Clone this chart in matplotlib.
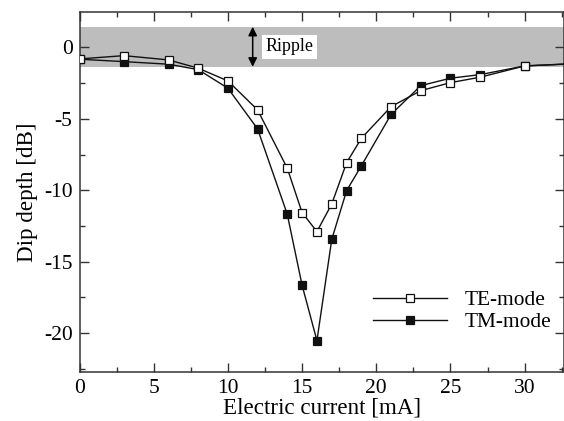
import matplotlib
matplotlib.use("Agg")
import matplotlib.pyplot as plt
from matplotlib.ticker import MultipleLocator

current = [0, 3, 6, 8, 10, 12, 14, 15, 16, 17, 18, 19, 21, 23, 25, 27, 30, 33]
te_mode = [-0.80, -0.57, -0.87, -1.45, -2.34, -4.37, -8.45, -11.56, -12.89, -10.95,
           -8.06, -6.35, -4.14, -3.02, -2.46, -2.08, -1.29, -1.15]
tm_mode = [-0.82, -0.99, -1.17, -1.55, -2.85, -5.70, -11.67, -16.65, -20.52, -13.43,
           -10.02, -8.27, -4.68, -2.67, -2.15, -1.90, -1.29, -1.15]
ripple_low, ripple_high = -1.35, 1.45

plt.rcParams['font.family'] = ['Liberation Serif', 'DejaVu Serif']
plt.rcParams['axes.unicode_minus'] = False
fig = plt.figure(figsize=(5.64, 4.21), dpi=100)
ax = fig.add_axes([0.141, 0.117, 0.859, 0.854])

ax.axhspan(ripple_low, ripple_high, color='#bdbdbd', lw=0, zorder=0)

ax.plot(current, te_mode, '-s', color='#111111', mfc='white', mec='#111111',
        ms=5.8, mew=0.9, lw=1.0, label='TE-mode', zorder=3)
ax.plot(current, tm_mode, '-s', color='#111111', mfc='#111111', mec='#111111',
        ms=5.8, mew=0.9, lw=1.0, label='TM-mode', zorder=2)

ax.annotate('', xy=(11.67, ripple_low), xytext=(11.67, ripple_high),
            arrowprops=dict(arrowstyle='<|-|>', color='black', lw=1.1,
                            mutation_scale=13, shrinkA=0, shrinkB=0), zorder=4)
ax.text(12.55, 0.05, 'Ripple', fontsize=13, ha='left', va='center',
        bbox=dict(facecolor='white', edgecolor='none', pad=2.5), zorder=5)

ax.set_xlim(0, 32.65)
ax.set_ylim(-22.7, 2.47)
ax.xaxis.set_major_locator(MultipleLocator(5))
ax.xaxis.set_minor_locator(MultipleLocator(2.5))
ax.yaxis.set_major_locator(MultipleLocator(5))
ax.yaxis.set_minor_locator(MultipleLocator(2.5))
ax.tick_params(which='both', direction='in', top=True, right=True,
               labelsize=15.5, color='#333333', width=1.0)
ax.tick_params(which='major', length=6.5, pad=5)
ax.tick_params(which='minor', length=3.6)
for s in ax.spines.values():
    s.set_linewidth(1.1)
    s.set_color('#333333')

ax.set_xlabel('Electric current [mA]', fontsize=16.6, labelpad=0)
ax.set_ylabel('Dip depth [dB]', fontsize=16.6, labelpad=4)

ax.legend(loc='upper left', bbox_to_anchor=(0.565, 0.28), frameon=False,
          fontsize=15.4, handlelength=3.5, handletextpad=0.8, labelspacing=0.1)

fig.savefig('out.png', dpi=100)
